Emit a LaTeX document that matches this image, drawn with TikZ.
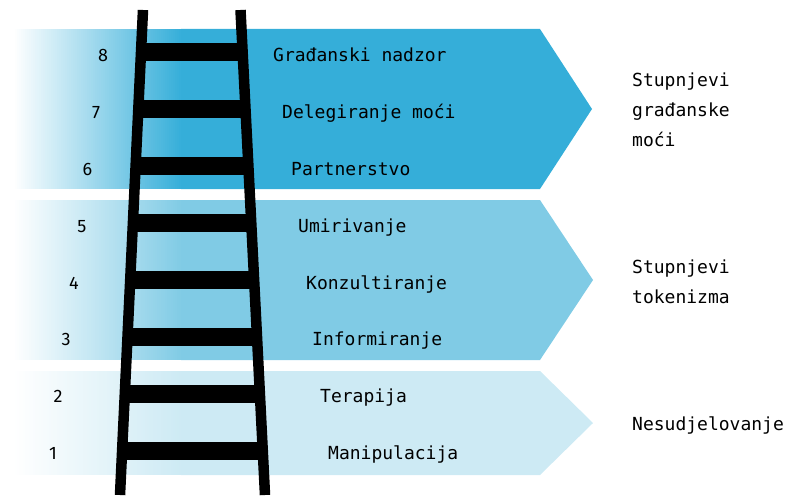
\documentclass[tikz,border=0pt]{standalone}
\usepackage{fontspec}
\newfontfamily\labfont{DejaVu Sans Mono}
\newfontfamily\numfont{Fira Sans}
\definecolor{bandA}{HTML}{35AED9}
\definecolor{bandB}{HTML}{80CBE5}
\definecolor{bandC}{HTML}{CDEAF4}
\tikzset{
  lab/.style={anchor=base west, inner sep=0pt, font=\labfont\fontsize{18}{18}\selectfont},
  num/.style={anchor=base, inner sep=0pt, font=\numfont\fontsize{18}{18}\selectfont},
  rail/.style={line width=10.5pt, line cap=butt, black},
  rung/.style={line width=18pt, line cap=butt, black}
}
\newcommand{\fadestrips}[3]{% colour, top, bottom
  \foreach \k in {0,...,84}{
    \pgfmathsetmacro{\pc}{\k/84*100}
    \pgfmathsetmacro{\xa}{13+2*\k}
    \fill[#1!\pc!white] (\xa,#2) rectangle (\xa+3,#3);
  }
}
\begin{document}
\begin{tikzpicture}[x=1pt,y=-1pt]
\useasboundingbox (0,0) rectangle (789,495);
% bands
\fill[bandA] (181,29) -- (540,29) -- (592,109) -- (540,189) -- (181,189) -- cycle;
\fadestrips{bandA}{29}{189}
\fill[bandB] (181,200) -- (540,200) -- (593,280) -- (540,360) -- (181,360) -- cycle;
\fadestrips{bandB}{200}{360}
\fill[bandC] (181,371) -- (540,371) -- (593,423) -- (540,475) -- (181,475) -- cycle;
\fadestrips{bandC}{371}{475}
% ladder
\coordinate (lt) at (143,10);
\coordinate (lb) at (120,495);
\coordinate (rt) at (240.5,10);
\coordinate (rb) at (265,495);
\foreach \i/\y in {1/451,2/394,3/337,4/280,5/223,6/166,7/109,8/52}{
  \pgfmathsetmacro{\xl}{143-0.0474*(\y-10)}
  \pgfmathsetmacro{\xr}{240.5+0.0505*(\y-10)}
  \coordinate (rl\i) at (\xl,\y);
  \coordinate (rr\i) at (\xr,\y);
  \draw[rung] (rl\i) -- (rr\i);
}
\draw[rail] (lt) -- (lb);
\draw[rail] (rt) -- (rb);
% numbers
\node[num] (n8) at (103,61) {8};
\node[num] (n7) at (96,118) {7};
\node[num] (n6) at (87.5,175) {6};
\node[num] (n5) at (82,232) {5};
\node[num] (n4) at (74,289) {4};
\node[num] (n3) at (66,345) {3};
\node[num] (n2) at (58,402) {2};
\node[num] (n1) at (53,459) {1};
% labels
\node[lab] (l8) at (273,61) {Građanski nadzor};
\node[lab] (l7) at (282,118) {Delegiranje moći};
\node[lab] (l6) at (291,175) {Partnerstvo};
\node[lab] (l5) at (298,232) {Umirivanje};
\node[lab] (l4) at (306,289) {Konzultiranje};
\node[lab] (l3) at (312,345) {Informiranje};
\node[lab] (l2) at (320,402) {Terapija};
\node[lab] (l1) at (328,459) {Manipulacija};
% group labels
\node[lab] (g1a) at (632,86) {Stupnjevi};
\node[lab] (g1b) at (632,116) {građanske};
\node[lab] (g1c) at (632,146) {moći};
\node[lab] (g2a) at (632,273) {Stupnjevi};
\node[lab] (g2b) at (632,303) {tokenizma};
\node[lab] (g3) at (632,430) {Nesudjelovanje};
\end{tikzpicture}
\end{document}
